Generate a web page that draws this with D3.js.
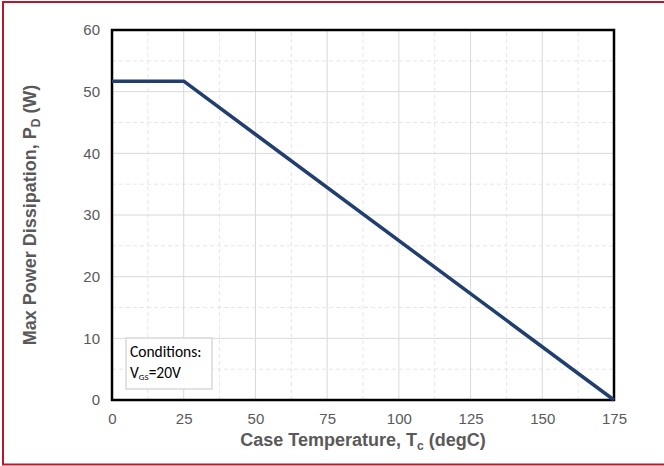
<!DOCTYPE html>
<html><head><meta charset="utf-8">
<script src="https://cdn.jsdelivr.net/npm/d3@7"></script>
<style>body{margin:0;background:#fff}svg{display:block}</style>
</head><body>
<script>
const temperature = [0, 25, 175];
const powerDissipation = [51.7, 51.7, 0];
const xTicks = [0, 25, 50, 75, 100, 125, 150, 175];
const yTicks = [0, 10, 20, 30, 40, 50, 60];

const W = 664, H = 466;
const m = {left: 112, right: 50, top: 30, bottom: 66};
const svg = d3.select("body").append("svg").attr("width", W).attr("height", H);
svg.append("rect").attr("x", 3).attr("y", 2).attr("width", W + 2).attr("height", H - 3.5)
  .attr("fill", "#fff").attr("stroke", "#b5192b").attr("stroke-width", 2);

const x = d3.scaleLinear().domain([0, 175]).range([m.left, W - m.right]);
const y = d3.scaleLinear().domain([0, 60]).range([H - m.bottom, m.top]);

const minorX = d3.range(12.5, 175, 25);
const minorY = d3.range(5, 60, 10);
const g = svg.append("g");
g.selectAll(".mx").data(minorX).join("line").attr("x1", d => x(d)).attr("x2", d => x(d))
  .attr("y1", y(0)).attr("y2", y(60)).attr("stroke", "#e6e6e6").attr("stroke-dasharray", "4,3");
g.selectAll(".my").data(minorY).join("line").attr("y1", d => y(d)).attr("y2", d => y(d))
  .attr("x1", x(0)).attr("x2", x(175)).attr("stroke", "#e6e6e6").attr("stroke-dasharray", "4,3");
g.selectAll(".gx").data(xTicks).join("line").attr("x1", d => x(d)).attr("x2", d => x(d))
  .attr("y1", y(0)).attr("y2", y(60)).attr("stroke", "#d9d9d9");
g.selectAll(".gy").data(yTicks).join("line").attr("y1", d => y(d)).attr("y2", d => y(d))
  .attr("x1", x(0)).attr("x2", x(175)).attr("stroke", "#d9d9d9");

svg.append("rect").attr("x", x(0)).attr("y", y(60)).attr("width", x(175) - x(0)).attr("height", y(0) - y(60))
  .attr("fill", "none").attr("stroke", "#000").attr("stroke-width", 2.5);

const xAxis = svg.append("g").attr("transform", `translate(0,${y(0)})`)
  .call(d3.axisBottom(x).tickValues(xTicks).tickSize(0).tickPadding(13));
xAxis.select(".domain").remove();
xAxis.selectAll("text").attr("font-family", "Arial, 'Liberation Sans', sans-serif").attr("font-size", 15).attr("fill", "#595959");
const yAxis = svg.append("g").attr("transform", `translate(${x(0)},0)`)
  .call(d3.axisLeft(y).tickValues(yTicks).tickSize(0).tickPadding(12));
yAxis.select(".domain").remove();
yAxis.selectAll("text").attr("font-family", "Arial, 'Liberation Sans', sans-serif").attr("font-size", 15).attr("fill", "#595959");

const pts = temperature.map((t, i) => [t, powerDissipation[i]]);
svg.append("path").datum(pts)
  .attr("d", d3.line().x(d => x(d[0])).y(d => y(d[1])))
  .attr("fill", "none").attr("stroke", "#203f6e").attr("stroke-width", 3.5).attr("stroke-linejoin", "round");

svg.append("rect").attr("x", 126).attr("y", 338).attr("width", 86).attr("height", 51)
  .attr("fill", "#fff").attr("stroke", "#d9d9d9").attr("stroke-width", 1.5);
const ct = svg.append("g").attr("font-family", "Calibri, Carlito, 'Liberation Sans', sans-serif").attr("font-size", 15.5).attr("fill", "#000");
ct.append("text").attr("x", 130).attr("y", 357).text("Conditions:");
const t2 = ct.append("text").attr("x", 130).attr("y", 378);
t2.append("tspan").text("V");
t2.append("tspan").attr("font-size", 9).attr("dy", 2).text("GS");
t2.append("tspan").attr("dy", -2).text("=20V");

const xt = svg.append("text").attr("x", (x(0) + x(175)) / 2).attr("y", 446).attr("text-anchor", "middle")
  .attr("font-family", "Arial, 'Liberation Sans', sans-serif").attr("font-weight", "bold").attr("font-size", 18).attr("fill", "#595959");
xt.append("tspan").text("Case Temperature, T");
xt.append("tspan").attr("font-size", 12).attr("dy", 4).text("c");
xt.append("tspan").attr("dy", -4).text(" (degC)");

const yt = svg.append("text").attr("transform", `translate(36,${(y(0) + y(60)) / 2}) rotate(-90)`).attr("text-anchor", "middle")
  .attr("font-family", "Arial, 'Liberation Sans', sans-serif").attr("font-weight", "bold").attr("font-size", 18).attr("fill", "#595959");
yt.append("tspan").text("Max Power Dissipation, P");
yt.append("tspan").attr("font-size", 12).attr("dy", 4).text("D");
yt.append("tspan").attr("dy", -4).text(" (W)");
</script>
</body></html>
